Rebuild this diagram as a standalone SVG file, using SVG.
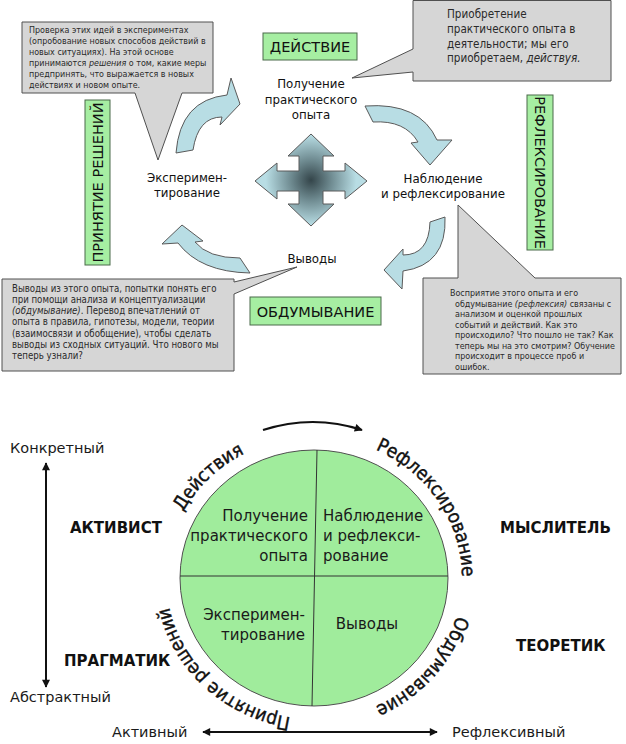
<svg xmlns="http://www.w3.org/2000/svg" width="626" height="744" viewBox="0 0 626 744">
<defs>
<style>
.callout{fill:#d6d6d6;stroke:#505050;stroke-width:1}
.ct{font-family:"DejaVu Sans Condensed","DejaVu Sans",sans-serif;font-stretch:condensed;fill:#2a2a2a}
.green{fill:#a6eea2;stroke:#4a6a4a;stroke-width:1}
.gt{font-family:"DejaVu Sans",sans-serif;font-size:14.5px;fill:#111;text-anchor:middle}
.lbl{font-family:"DejaVu Sans",sans-serif;font-size:11.8px;fill:#111;text-anchor:middle}
.carrow{fill:#b8dde4;stroke:#5a5a5a;stroke-width:1}
.ctext{font-family:"DejaVu Sans",sans-serif;font-size:15px;fill:#1a1a1a}
.bold{font-family:"DejaVu Sans",sans-serif;font-weight:bold;font-size:15px;fill:#111}
.axis{font-family:"DejaVu Sans",sans-serif;font-size:14.5px;fill:#1a1a1a}
.arc{font-family:"DejaVu Sans Condensed","DejaVu Sans",sans-serif;font-stretch:condensed;font-size:19px;fill:#111;stroke:#111;stroke-width:0.4}
.line{stroke:#111;stroke-width:2;fill:none}
</style>
<radialGradient id="crossGrad" gradientUnits="userSpaceOnUse" cx="311" cy="180" r="58">
<stop offset="0" stop-color="#34454a"/>
<stop offset="0.35" stop-color="#6f8b91"/>
<stop offset="0.78" stop-color="#b8dde4"/>
</radialGradient>
<marker id="ah" viewBox="0 0 10 10" refX="9" refY="5" markerWidth="5" markerHeight="4" orient="auto-start-reverse" markerUnits="strokeWidth">
<path d="M0,0 L10,5 L0,10 z" fill="#111"/>
</marker>
<path id="ring" d="M166,578 A148,141 0 1 1 462,578 A148,141 0 1 1 166,578"/>
</defs>
<rect width="626" height="744" fill="#fff"/>

<!-- TOP DIAGRAM -->
<g id="callout-experiment">
<path class="callout" d="M22,22 H213 V93 H182 L158,160 L135,93 H22 Z"/>
<text class="ct" font-size="8.9" x="29">
<tspan x="29" y="33">Проверка этих идей в экспериментах</tspan>
<tspan x="29" y="44">(опробование новых способов действий в</tspan>
<tspan x="29" y="55">новых ситуациях). На этой основе</tspan>
<tspan x="29" y="66">принимаются <tspan font-style="italic">решения</tspan> о том, какие меры</tspan>
<tspan x="29" y="77">предпринять, что выражается в новых</tspan>
<tspan x="29" y="88">действиях и новом опыте.</tspan>
</text>
</g>

<g id="callout-action">
<path class="callout" d="M413,0.5 H611 V81 H413 V72 L352,78 L413,49 Z"/>
<text class="ct" font-size="11.6">
<tspan x="447" y="18">Приобретение</tspan>
<tspan x="447" y="33">практического опыта в</tspan>
<tspan x="447" y="48">деятельности; мы его</tspan>
<tspan x="447" y="62">приобретаем, <tspan font-style="italic">действуя.</tspan></tspan>
</text>
</g>

<g id="callout-conclusions">
<path class="callout" d="M2,279 H234 V282 L297,267 L234,294 V371 H2 Z"/>
<text class="ct" font-size="9.6">
<tspan x="12" y="292">Выводы из этого опыта, попытки понять его</tspan>
<tspan x="12" y="303">при помощи анализа и концептуализации</tspan>
<tspan x="12" y="314"><tspan font-style="italic">(обдумывание)</tspan>. Перевод впечатлений от</tspan>
<tspan x="12" y="325">опыта в правила, гипотезы, модели, теории</tspan>
<tspan x="12" y="337">(взаимосвязи и обобщение), чтобы сделать</tspan>
<tspan x="12" y="348">выводы из сходных ситуаций. Что нового мы</tspan>
<tspan x="12" y="359">теперь узнали?</tspan>
</text>
</g>

<g id="callout-reflection">
<path class="callout" d="M423,278 H458 V205 L535,278 H621 V374 H423 Z"/>
<text class="ct" font-size="8.9">
<tspan x="450" y="296">Восприятие этого опыта и его</tspan>
<tspan x="455" y="306.5">обдумывание <tspan font-style="italic">(рефлексия)</tspan> связаны с</tspan>
<tspan x="455" y="317">анализом и оценкой прошлых</tspan>
<tspan x="455" y="327.5">событий и действий. Как это</tspan>
<tspan x="455" y="338">происходило? Что пошло не так? Как</tspan>
<tspan x="455" y="348.5">теперь мы на это смотрим? Обучение</tspan>
<tspan x="455" y="359">происходит в процессе проб и</tspan>
<tspan x="455" y="369.5">ошибок.</tspan>
</text>
</g>

<g id="label-action">
<rect class="green" x="263" y="33" width="94" height="27"/>
<text class="gt" x="310" y="52">ДЕЙСТВИЕ</text>
</g>
<g id="label-reflection">
<rect class="green" x="527" y="95" width="26" height="155"/>
<text class="gt" transform="translate(540,172.5) rotate(90)" x="0" y="5">РЕФЛЕКСИРОВАНИЕ</text>
</g>
<g id="label-decision">
<rect class="green" x="85" y="100" width="25" height="165"/>
<text class="gt" transform="translate(97.5,182.5) rotate(-90)" x="0" y="5">ПРИНЯТИЕ РЕШЕНИЙ</text>
</g>
<g id="label-thinking">
<rect class="green" x="250" y="297" width="131" height="28"/>
<text class="gt" x="315.5" y="316.5">ОБДУМЫВАНИЕ</text>
</g>

<g id="node-experience">
<text class="lbl"><tspan x="311" y="88">Получение</tspan><tspan x="311" y="104">практического</tspan><tspan x="311" y="119">опыта</tspan></text>
</g>
<g id="node-observation">
<text class="lbl"><tspan x="443" y="183">Наблюдение</tspan><tspan x="443" y="198">и рефлексирование</tspan></text>
</g>
<g id="node-experiment">
<text class="lbl"><tspan x="187" y="182">Эксперимен-</tspan><tspan x="187" y="197">тирование</tspan></text>
</g>
<g id="node-conclusions">
<text class="lbl" x="312" y="263">Выводы</text>
</g>

<g id="center-cross">
<path fill="url(#crossGrad)" stroke="#5a5a5a" stroke-width="1" d="M311,134 L334,156 L323,156 L323,171 L345,171 L345,163 L367,181 L345,199 L345,191 L323,191 L323,204 L334,204 L311,226 L288,204 L299,204 L299,191 L277,191 L277,199 L255,181 L277,163 L277,171 L299,171 L299,156 L288,156 Z"/>
</g>

<g id="connectors">
<path class="carrow" d="M176,153 Q180,100 227,95 L231,78 L240,104 L220,125 L222,117 Q198,117 193,150 Z"/>
<path class="carrow" d="M365,106 Q420,102 437,140 L452,140 L430,165 L411,143 L418,142 Q405,120 373,122 Z"/>
<path class="carrow" d="M445,217 Q447,265 403,271 L402,289 L384,270 L403,249 L403,255 Q429,255 430,222 Z"/>
<path class="carrow" d="M250,273 Q200,272 178,243 L162,244 L182,225 L203,241 L195,242 Q208,258 240,258 Z"/>
</g>

<!-- BOTTOM DIAGRAM -->
<g id="circle">
<ellipse cx="314" cy="578" rx="134" ry="128" fill="#a0ec9c" stroke="#505050" stroke-width="1"/>
<line x1="317" y1="450" x2="312" y2="706" stroke="#333" stroke-width="1"/>
<line x1="180" y1="576" x2="448" y2="576" stroke="#333" stroke-width="1"/>
</g>
<g id="q-experience">
<text class="ctext" text-anchor="end"><tspan x="308" y="521">Получение</tspan><tspan x="308" y="541">практического</tspan><tspan x="308" y="561">опыта</tspan></text>
</g>
<g id="q-observation">
<text class="ctext"><tspan x="323" y="521">Наблюдение</tspan><tspan x="323" y="541">и рефлекси-</tspan><tspan x="323" y="561">рование</tspan></text>
</g>
<g id="q-experiment">
<text class="ctext" text-anchor="end"><tspan x="305" y="620">Эксперимен-</tspan><tspan x="305" y="640">тирование</tspan></text>
</g>
<g id="q-conclusions">
<text class="ctext" text-anchor="middle" x="367" y="629">Выводы</text>
</g>

<g id="ring-labels">
<text class="arc"><textPath href="#ring" startOffset="69">Действия</textPath></text>
<text class="arc"><textPath href="#ring" startOffset="290">Рефлексирование</textPath></text>
<text class="arc"><textPath href="#ring" startOffset="492">Обдумывание</textPath></text>
<text class="arc"><textPath href="#ring" startOffset="704">Принятие решений</textPath></text>
</g>

<g id="types">
<text class="bold" x="70" y="533">АКТИВИСТ</text>
<text class="bold" x="500" y="533">МЫСЛИТЕЛЬ</text>
<text class="bold" x="516" y="651">ТЕОРЕТИК</text>
<text class="bold" x="64" y="666">ПРАГМАТИК</text>
</g>

<g id="axes">
<text class="axis" x="10" y="453">Конкретный</text>
<text class="axis" x="10" y="702">Абстрактный</text>
<text class="axis" x="112" y="737">Активный</text>
<text class="axis" x="452" y="737">Рефлексивный</text>
</g>

<g id="axis-connectors">
<path class="line" d="M263,430 Q313,414 362,430" marker-end="url(#ah)"/>
<path class="line" d="M46,463 L46,687" marker-start="url(#ah)" marker-end="url(#ah)"/>
<path class="line" d="M203,732 L437,732" marker-start="url(#ah)" marker-end="url(#ah)"/>
</g>
</svg>
